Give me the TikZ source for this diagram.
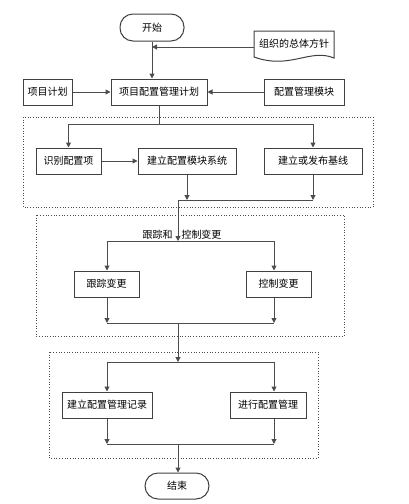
\documentclass[tikz,border=0pt]{standalone}
\usepackage{fontspec}
\newfontfamily\cjk{Noto Sans CJK SC}
\usetikzlibrary{arrows.meta}
\begin{document}
\begin{tikzpicture}[x=1pt,y=-1pt,
  font=\cjk\fontsize{10}{12}\selectfont,
  box/.style={draw=black!75,line width=1pt,minimum height=26pt,inner sep=0pt,fill=white},
  term/.style={box,rounded corners=13pt},
  grp/.style={draw=black!70,dotted,line width=0.7pt},
  ln/.style={draw=black!70,line width=1pt},
  arr/.style={ln,-{Triangle[length=5pt,width=5pt]}}]
\useasboundingbox (0,0) rectangle (408,504);
% groups
\draw[grp] (23,117) rectangle (373,207);
\draw[grp] (36,215) rectangle (344,336);
\draw[grp] (49,352) rectangle (318,458);
% nodes
\node[term,minimum width=64pt,minimum height=27pt] (start) at (152,27.5) {开始};
\node[inner sep=0pt,minimum width=80pt,minimum height=27pt] (doc) at (294,44) {组织的总体方针};
\draw[draw=black!75,line width=1pt] (254,31) -- (334,31) -- (334,58)
  .. controls (310,48) and (290,70) .. (254,57) -- cycle;
\node[box,minimum width=49pt] (p1) at (47.5,92) {项目计划};
\node[box,minimum width=96pt] (p2) at (159,92) {项目配置管理计划};
\node[box,minimum width=80pt] (p3) at (304,92) {配置管理模块};
\node[box,minimum width=65pt] (a1) at (68.5,161) {识别配置项};
\node[box,minimum width=98pt] (a2) at (187,161) {建立配置模块系统};
\node[box,minimum width=98pt] (a3) at (313,161) {建立或发布基线};
\node[inner sep=0pt] (lab) at (182,235) {跟踪和\hspace{9pt}控制变更};
\node[box,minimum width=65pt] (c1) at (106.5,284) {跟踪变更};
\node[box,minimum width=65pt] (c2) at (278.5,284) {控制变更};
\node[box,minimum width=90pt] (d1) at (107,405) {建立配置管理记录};
\node[box,minimum width=76pt] (d2) at (268,405) {进行配置管理};
\node[term,minimum width=64pt] (end) at (177,486) {结束};
% coordinates
\coordinate (r) at (274,0);
\coordinate (l) at (107,0);
\coordinate (m) at (178,0);
\coordinate (j0) at (159,124);
\coordinate (j0l) at (a1.north |- j0);
\coordinate (j0r) at (a3.north |- j0);
\coordinate (j1) at (178,200);
\coordinate (j1r) at (a3.south |- j1);
\coordinate (j2) at (178,241);
\coordinate (j2l) at (l |- j2);
\coordinate (j2r) at (r |- j2);
\coordinate (j3) at (178,323);
\coordinate (j3l) at (l |- j3);
\coordinate (j3r) at (r |- j3);
\coordinate (j4) at (178,362);
\coordinate (j4l) at (l |- j4);
\coordinate (j4r) at (r |- j4);
\coordinate (j5) at (178,444);
\coordinate (j5l) at (l |- j5);
\coordinate (j5r) at (r |- j5);
\coordinate (docin) at (doc.west |- 0,47);
% connectors
\draw[arr] (start.south) -- (p2.north -| start.south);
\draw[arr] (docin) -- (start.south |- docin);
\draw[arr] (p1) -- (p2);
\draw[arr] (p3) -- (p2);
\draw[ln] (p2.south) -- (j0);
\draw[ln] (j0l) -- (j0r);
\draw[arr] (j0l) -- (a1.north);
\draw[arr] (j0r) -- (a3.north);
\draw[arr] (a1) -- (a2);
\draw[arr] (a2.south) -- (a2.south |- j1);
\draw[arr] (a3.south) -- (j1r);
\draw[ln] (j1) -- (j1r);
\draw[arr] (j1) -- (j2);
\draw[ln] (j2l) -- (j2r);
\draw[arr] (j2l) -- (c1.north -| l);
\draw[arr] (j2r) -- (c2.north -| r);
\draw[arr] (c1.south -| l) -- (j3l);
\draw[arr] (c2.south -| r) -- (j3r);
\draw[ln] (j3l) -- (j3r);
\draw[arr] (j3) -- (j4);
\draw[ln] (j4l) -- (j4r);
\draw[arr] (j4l) -- (d1.north -| l);
\draw[arr] (j4r) -- (d2.north -| r);
\draw[arr] (d1.south -| l) -- (j5l);
\draw[arr] (d2.south -| r) -- (j5r);
\draw[ln] (j5l) -- (j5r);
\draw[arr] (j5) -- (end.north -| m);
\end{tikzpicture}
\end{document}
